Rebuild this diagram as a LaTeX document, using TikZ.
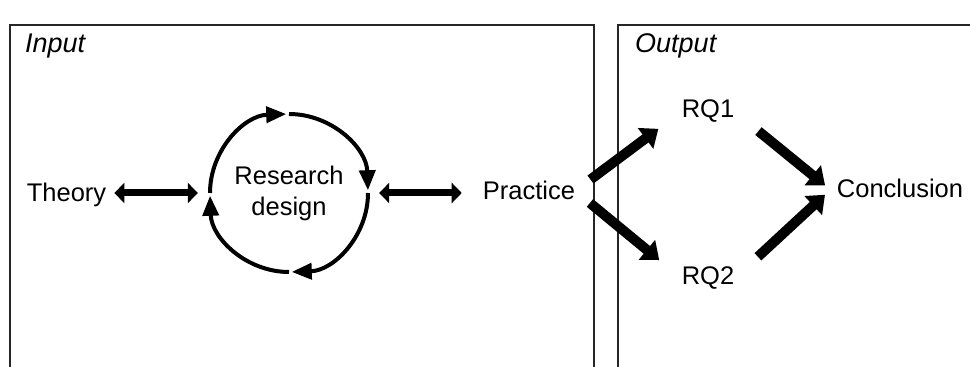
\documentclass[tikz,border=0pt]{standalone}
\usepackage{fontspec}
\setmainfont{Liberation Sans}
\usetikzlibrary{arrows.meta,positioning}

\begin{document}
\begin{tikzpicture}[
    x=1pt, y=1pt,
    font=\fontsize{25.5}{31}\selectfont,
    txt/.style={inner sep=0pt, anchor=base},
    frame/.style={draw=black!85, line width=1.2pt},
    boxtitle/.style={inner sep=0pt, anchor=base west, font=\fontsize{27}{32}\selectfont\itshape},
    twoway/.style={{Triangle[width=20pt,length=10pt]}-{Triangle[width=20pt,length=10pt]}, line width=7pt},
    loopline/.style={-{Triangle[width=16pt,length=20pt]}, line width=4pt},
    fat/.style={-{Triangle[width=25pt,length=16pt]}, line width=10pt}
]
\useasboundingbox (0,0) rectangle (970,367);

% Frames
\draw[frame] (10,-5) |- (594,342) -- (594,-5);
\draw[frame] (618,-5) |- (980,342);
\node[boxtitle] (inlbl) at (25,314) {Input};
\node[boxtitle] (outlbl) at (635,314) {Output};

% Input side
\node[txt] (theory) at (66.5,165) {Theory};
\node[circle, inner sep=0pt, minimum size=158pt, align=center] (design) at (289,174) {Research\\design};
\node[txt] (practice) at (529,167) {Practice};

% Output side
\node[txt] (rq1) at (708,249) {RQ1};
\node[txt] (rq2) at (708,82) {RQ2};
\node[txt] (concl) at (900,169) {Conclusion};

% Research cycle
\foreach \a in {180,90,0,-90}
  \draw[loopline] (design.center) ++(\a:79) arc[start angle=\a, end angle=\a-88, radius=79];

% Arrows
\draw[twoway, shorten <=8pt, shorten >=12pt] (theory.east |- design.west) -- (design.west);
\draw[twoway, shorten <=11pt, shorten >=21pt] (design.east) -- (design.east -| practice.west);

\draw[fat, shorten <=19pt, shorten >=29pt] (practice.east) -- (rq1.west);
\draw[fat, shorten <=19pt, shorten >=29pt] (practice.east) -- (rq2.west);
\draw[fat, shorten <=31pt, shorten >=15pt] (rq1.east) -- ([yshift=-6pt]concl.west);
\draw[fat, shorten <=32pt, shorten >=16pt] (rq2.east) -- ([yshift=5pt]concl.west);

\end{tikzpicture}
\end{document}
